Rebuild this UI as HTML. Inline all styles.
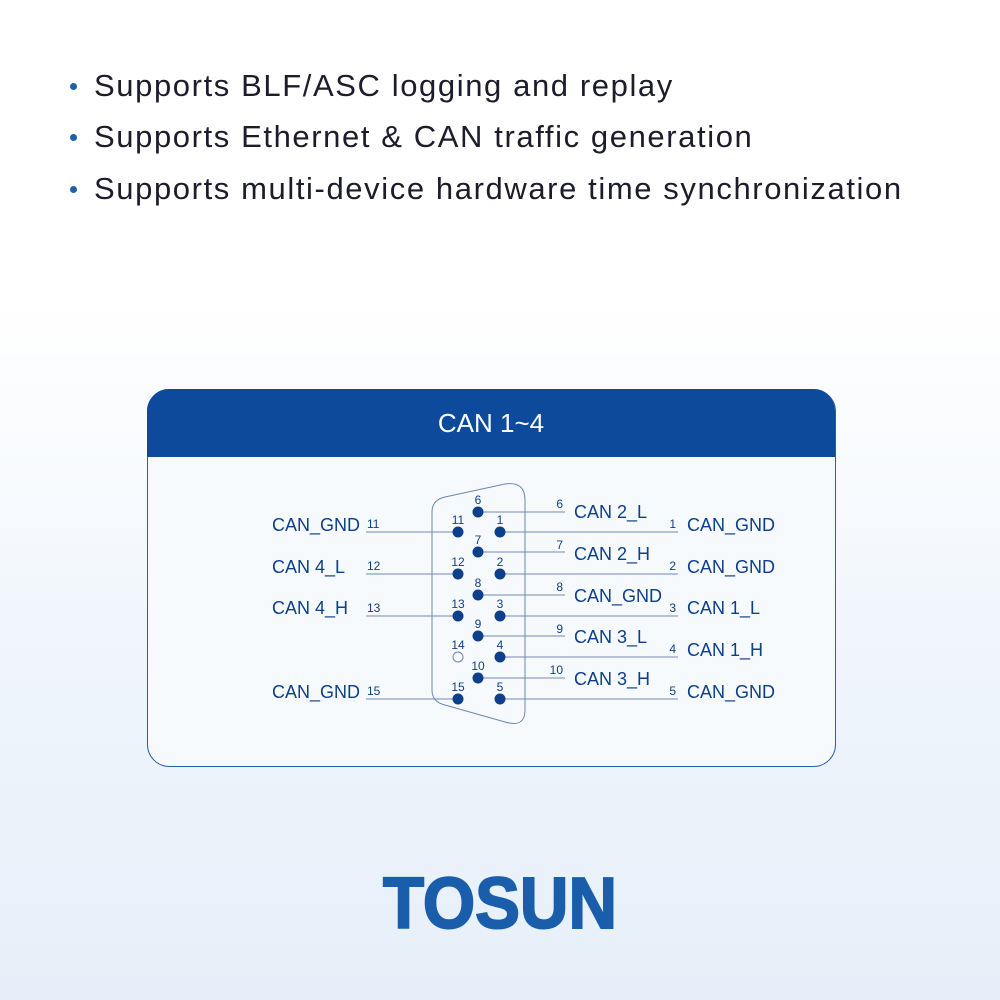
<!DOCTYPE html>
<html><head><meta charset="utf-8"><style>
html,body{margin:0;padding:0;}
body{width:1000px;height:1000px;position:relative;overflow:hidden;font-family:"Liberation Sans",sans-serif;
background:linear-gradient(180deg,#ffffff 0%,#ffffff 30%,#eef4fb 70%,#e6eff9 100%);}
.b{position:absolute;left:94px;font-size:31px;letter-spacing:1.6px;color:#1c1c2a;white-space:nowrap}
.d{position:absolute;left:70px;width:7px;height:7px;border-radius:50%;background:#1f5fae}
</style></head><body>
<div class="d" style="top:83px"></div><div class="b" style="top:68px">Supports BLF/ASC logging and replay</div>
<div class="d" style="top:134px"></div><div class="b" style="top:119px">Supports Ethernet &amp; CAN traffic generation</div>
<div class="d" style="top:186px"></div><div class="b" style="top:171px">Supports multi-device hardware time synchronization</div>

<svg width="1000" height="1000" style="position:absolute;left:0;top:0" font-family="Liberation Sans, sans-serif">
<rect x="147.5" y="389.5" width="688" height="377" rx="22" fill="#f7fafd" stroke="#2a5ea8" stroke-width="1"/>
<path d="M147,457 V411 A22,22 0 0 1 169,389 H813 A22,22 0 0 1 835,411 V457 Z" fill="#0d4a9c"/>
<text x="491" y="432" fill="#fff" font-size="26" text-anchor="middle">CAN 1~4</text>
<path d="M432,512 Q432,500 445,497 L505,484 Q525,481 525,500 L525,710 Q525,728 505,722 L445,705 Q432,702 432,690 Z" fill="none" stroke="#6d86b0" stroke-width="1"/>
<g stroke="#7088b0" stroke-width="1">
<line x1="366" y1="532" x2="458" y2="532"/><line x1="366" y1="574" x2="458" y2="574"/><line x1="366" y1="616" x2="458" y2="616"/><line x1="366" y1="699" x2="458" y2="699"/>
<line x1="500" y1="532" x2="678" y2="532"/><line x1="500" y1="574" x2="678" y2="574"/><line x1="500" y1="616" x2="678" y2="616"/><line x1="500" y1="657" x2="678" y2="657"/><line x1="500" y1="699" x2="678" y2="699"/>
<line x1="478" y1="512" x2="565" y2="512"/><line x1="478" y1="552" x2="565" y2="552"/><line x1="478" y1="595" x2="565" y2="595"/><line x1="478" y1="636" x2="565" y2="636"/><line x1="478" y1="678" x2="565" y2="678"/>
</g>
<g fill="#0d3f8a">
<circle cx="458" cy="532" r="5.5"/><circle cx="458" cy="574" r="5.5"/><circle cx="458" cy="616" r="5.5"/><circle cx="458" cy="699" r="5.5"/>
<circle cx="500" cy="532" r="5.5"/><circle cx="500" cy="574" r="5.5"/><circle cx="500" cy="616" r="5.5"/><circle cx="500" cy="657" r="5.5"/><circle cx="500" cy="699" r="5.5"/>
<circle cx="478" cy="512" r="5.5"/><circle cx="478" cy="552" r="5.5"/><circle cx="478" cy="595" r="5.5"/><circle cx="478" cy="636" r="5.5"/><circle cx="478" cy="678" r="5.5"/>
</g>
<circle cx="458" cy="657" r="5" fill="none" stroke="#6d86b0"/>
<g fill="#0d3f8a" font-size="12" text-anchor="middle">
<text x="458" y="524">11</text><text x="458" y="566">12</text><text x="458" y="608">13</text><text x="458" y="649">14</text><text x="458" y="691">15</text>
<text x="500" y="524">1</text><text x="500" y="566">2</text><text x="500" y="608">3</text><text x="500" y="649">4</text><text x="500" y="691">5</text>
<text x="478" y="504">6</text><text x="478" y="544">7</text><text x="478" y="587">8</text><text x="478" y="628">9</text><text x="478" y="670">10</text>
</g>
<g fill="#0d3f8a" font-size="12">
<text x="367" y="528">11</text><text x="367" y="570">12</text><text x="367" y="612">13</text><text x="367" y="695">15</text>
<text x="676" y="528" text-anchor="end">1</text><text x="676" y="570" text-anchor="end">2</text><text x="676" y="612" text-anchor="end">3</text><text x="676" y="653" text-anchor="end">4</text><text x="676" y="695" text-anchor="end">5</text>
<text x="563" y="508" text-anchor="end">6</text><text x="563" y="549" text-anchor="end">7</text><text x="563" y="591" text-anchor="end">8</text><text x="563" y="633" text-anchor="end">9</text><text x="563" y="674" text-anchor="end">10</text>
</g>
<g fill="#0d3f8a" font-size="18">
<text x="272" y="531">CAN_GND</text><text x="272" y="573">CAN 4_L</text><text x="272" y="614">CAN 4_H</text><text x="272" y="698">CAN_GND</text>
<text x="687" y="531">CAN_GND</text><text x="687" y="573">CAN_GND</text>
<text x="687" y="614">CAN 1_L</text><text x="687" y="656">CAN 1_H</text><text x="687" y="698">CAN_GND</text>
<text x="574" y="518">CAN 2_L</text><text x="574" y="560">CAN 2_H</text><text x="574" y="602">CAN_GND</text><text x="574" y="643">CAN 3_L</text><text x="574" y="685">CAN 3_H</text>
</g>
<text x="383" y="928" font-size="72" font-weight="bold" fill="#1a5eab" stroke="#1a5eab" stroke-width="2" textLength="234" lengthAdjust="spacingAndGlyphs">TOSUN</text>
</svg>
</body></html>
